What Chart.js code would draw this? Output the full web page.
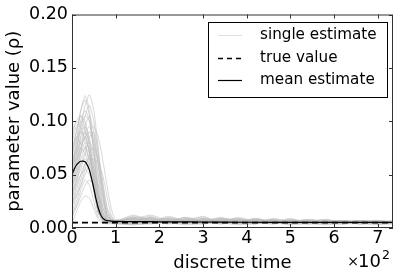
<!DOCTYPE html>
<html>
<head>
<meta charset="utf-8">
<script src="https://cdn.jsdelivr.net/npm/chart.js@4.4.0/dist/chart.umd.min.js"></script>
<style>
  body { margin: 0; background: #fff; }
</style>
</head>
<body>
<canvas id="chart" width="400" height="277"></canvas>
<script>
// time points for the single estimates
const singleTimes = [0, 10, 20, 30, 40, 50, 60, 70, 80, 90, 100,
  140, 180, 220, 260, 300, 340, 380, 420, 460, 500, 540, 580, 620, 660, 700, 735];

// each single estimate run (rho)
const single01 = [0.05,0.08,0.11,0.124,0.11,0.07,0.03,0.012,0.008,0.007,0.006, .009,.006,.010,.007,.005,.008,.006,.009,.005,.007,.006,.008,.005,.006,.007,.005];
const single02 = [0.04,0.07,0.095,0.115,0.125,0.11,0.075,0.035,0.012,0.008,0.007, .007,.011,.006,.008,.010,.005,.007,.006,.008,.006,.007,.005,.007,.006,.005,.006];
const single03 = [0.06,0.075,0.09,0.095,0.085,0.06,0.03,0.012,0.008,0.006,0.006, .005,.007,.004,.009,.006,.007,.005,.006,.004,.006,.005,.007,.004,.005,.006,.004];
const single04 = [0.03,0.05,0.07,0.08,0.075,0.05,0.02,0.009,0.007,0.006,0.005, .010,.005,.008,.006,.004,.007,.009,.005,.007,.005,.004,.006,.006,.004,.005,.006];
const single05 = [0.07,0.09,0.105,0.1,0.08,0.045,0.015,0.008,0.006,0.006,0.005, .004,.006,.008,.005,.007,.004,.006,.008,.006,.004,.006,.005,.007,.005,.004,.005];
const single06 = [0.02,0.035,0.05,0.06,0.055,0.035,0.015,0.007,0.006,0.005,0.005, .008,.012,.007,.005,.009,.006,.004,.007,.005,.008,.006,.004,.005,.007,.006,.005];
const single07 = [0.08,0.095,0.1,0.09,0.07,0.04,0.015,0.008,0.006,0.005,0.005, .006,.004,.006,.010,.005,.009,.007,.004,.009,.006,.008,.006,.004,.006,.005,.007];
const single08 = [0.05,0.065,0.085,0.105,0.115,0.1,0.07,0.04,0.018,0.009,0.007, .011,.008,.005,.007,.006,.005,.010,.006,.005,.007,.005,.007,.006,.005,.007,.005];
const single09 = [0.01,0.02,0.035,0.045,0.04,0.025,0.01,0.006,0.005,0.005,0.005, .003,.005,.007,.004,.006,.008,.004,.005,.006,.004,.005,.004,.006,.004,.005,.004];
const single10 = [0.09,0.1,0.095,0.08,0.06,0.035,0.015,0.008,0.006,0.005,0.005, .007,.009,.005,.006,.008,.006,.005,.007,.004,.006,.007,.005,.004,.006,.005,.006];
const single11 = [0.045,0.06,0.08,0.09,0.095,0.085,0.06,0.03,0.012,0.007,0.006, .009,.006,.009,.007,.005,.010,.006,.005,.008,.005,.006,.008,.005,.007,.006,.005];
const single12 = [0.035,0.055,0.075,0.085,0.07,0.04,0.015,0.007,0.006,0.005,0.005, .005,.008,.006,.004,.007,.005,.008,.006,.005,.009,.004,.006,.007,.005,.004,.006];
const single13 = [0.06,0.08,0.1,0.11,0.1,0.07,0.035,0.014,0.008,0.006,0.006, .012,.007,.006,.009,.006,.007,.005,.009,.006,.005,.007,.005,.006,.004,.006,.005];
const single14 = [0.015,0.03,0.045,0.06,0.065,0.055,0.035,0.015,0.008,0.006,0.005, .006,.005,.011,.006,.008,.004,.007,.005,.007,.006,.005,.007,.005,.006,.005,.007];
const single15 = [0.055,0.07,0.085,0.09,0.08,0.055,0.025,0.01,0.007,0.006,0.005, .004,.010,.005,.007,.005,.008,.006,.004,.006,.008,.005,.004,.006,.005,.006,.004];
const single16 = [0.025,0.045,0.065,0.075,0.08,0.07,0.05,0.025,0.012,0.007,0.006, .008,.006,.007,.005,.009,.006,.005,.008,.005,.006,.008,.006,.005,.007,.004,.006];
const single17 = [0.065,0.085,0.09,0.085,0.07,0.05,0.025,0.01,0.007,0.006,0.005, .006,.007,.004,.008,.006,.005,.009,.006,.007,.005,.006,.005,.007,.005,.006,.005];
const single18 = [0.04,0.05,0.06,0.065,0.06,0.045,0.025,0.01,0.006,0.005,0.005, .005,.004,.006,.005,.004,.006,.004,.005,.004,.005,.004,.006,.004,.005,.004,.005];
const single19 = [0.075,0.09,0.11,0.12,0.105,0.075,0.04,0.015,0.008,0.006,0.006, .010,.007,.008,.006,.007,.009,.005,.007,.006,.007,.005,.006,.005,.006,.007,.006];
const single20 = [0.005,0.015,0.025,0.03,0.028,0.018,0.008,0.005,0.004,0.004,0.004, .003,.004,.005,.003,.004,.005,.003,.004,.005,.003,.004,.003,.004,.004,.003,.004];
const single21 = [0.085,0.1,0.105,0.095,0.075,0.045,0.02,0.009,0.006,0.005,0.005, .007,.005,.009,.006,.011,.005,.006,.005,.007,.006,.005,.007,.006,.005,.006,.005];
const single22 = [0.03,0.045,0.055,0.07,0.085,0.09,0.07,0.045,0.02,0.01,0.007, .009,.008,.006,.007,.005,.007,.008,.006,.005,.007,.006,.005,.006,.007,.005,.006];
const single23 = [0.05,0.065,0.075,0.07,0.055,0.035,0.015,0.007,0.006,0.005,0.005, .005,.006,.007,.005,.006,.004,.006,.007,.005,.004,.006,.005,.004,.005,.006,.004];
const single24 = [0.02,0.04,0.06,0.07,0.065,0.045,0.02,0.008,0.006,0.005,0.005, .006,.009,.005,.008,.006,.006,.007,.005,.006,.005,.007,.006,.005,.004,.005,.006];
const single25 = [0.045,0.06,0.075,0.085,0.09,0.095,0.085,0.065,0.04,0.018,0.008, .007,.010,.006,.005,.008,.006,.007,.005,.006,.007,.005,.006,.005,.007,.005,.006];
const single26 = [0.065,0.07,0.08,0.085,0.09,0.08,0.06,0.035,0.015,0.008,0.006, .005,.007,.009,.006,.005,.007,.005,.008,.006,.005,.006,.007,.006,.005,.006,.005];
const single27 = [0.01,0.025,0.04,0.055,0.07,0.075,0.065,0.04,0.015,0.007,0.005, .008,.005,.006,.010,.007,.005,.006,.005,.007,.005,.006,.004,.006,.005,.004,.005];
const single28 = [0.055,0.075,0.095,0.105,0.1,0.08,0.05,0.02,0.009,0.006,0.005, .006,.008,.005,.006,.007,.009,.006,.004,.006,.007,.005,.006,.005,.006,.005,.006];
const single29 = [0.035,0.04,0.05,0.055,0.05,0.04,0.03,0.02,0.01,0.006,0.005, .004,.006,.005,.007,.005,.006,.008,.005,.004,.006,.005,.005,.006,.004,.006,.005];
const single30 = [0.025,0.03,0.04,0.05,0.06,0.065,0.06,0.05,0.03,0.012,0.006, .009,.006,.007,.005,.006,.005,.007,.006,.008,.005,.006,.005,.004,.006,.005,.004];
const single31 = [0.07,0.085,0.08,0.075,0.065,0.05,0.03,0.012,0.007,0.005,0.005, .005,.009,.006,.007,.004,.006,.005,.007,.005,.006,.004,.005,.006,.005,.004,.005];
const single32 = [0.04,0.055,0.07,0.095,0.105,0.09,0.06,0.03,0.011,0.007,0.006, .008,.005,.007,.006,.009,.005,.006,.007,.005,.006,.005,.006,.005,.006,.005,.005];
const single33 = [0.015,0.02,0.03,0.04,0.045,0.04,0.03,0.015,0.007,0.005,0.004, .004,.006,.004,.005,.006,.004,.005,.004,.006,.004,.005,.004,.005,.004,.005,.004];
const single34 = [0.06,0.065,0.07,0.075,0.07,0.06,0.04,0.02,0.009,0.006,0.005, .010,.006,.005,.008,.006,.007,.005,.006,.007,.005,.006,.005,.006,.005,.006,.005];

const singleRuns = [single01, single02, single03, single04, single05, single06, single07, single08,
  single09, single10, single11, single12, single13, single14, single15, single16,
  single17, single18, single19, single20, single21, single22, single23, single24,
  single25, single26, single27, single28, single29, single30, single31, single32,
  single33, single34];

// mean of all runs
const meanTimes = [0, 5, 10, 15, 20, 25, 30, 35, 40, 45, 50, 55, 60, 65, 70, 75, 80, 90, 100, 150, 200, 300, 400, 500, 600, 735];
const meanEstimate = [0.050, 0.055, 0.059, 0.061, 0.0625, 0.0626, 0.062, 0.059, 0.054, 0.046, 0.037, 0.027, 0.019,
  0.013, 0.0095, 0.0078, 0.007, 0.0065, 0.0062, 0.006, 0.0058, 0.0056, 0.0054, 0.0053, 0.0052, 0.0052];

const trueValue = 0.005;
const timeRange = [0, 735];

const xTickValues = [0, 100, 200, 300, 400, 500, 600, 700];
const xTickLabels = ['0', '1', '2', '3', '4', '5', '6', '7'];
const yTickValues = [0, 0.05, 0.10, 0.15, 0.20];
const yTickLabels = ['0.00', '0.05', '0.10', '0.15', '0.20'];

const legendLabels = ['single estimate', 'true value', 'mean estimate'];

const FONT = "'DejaVu Sans', sans-serif";
const GRAY = 'rgba(190,190,190,0.6)';

const datasets = [];
singleRuns.forEach((run) => {
  datasets.push({
    data: run.map((v, i) => ({ x: singleTimes[i], y: v })),
    borderColor: GRAY,
    borderWidth: 1,
    pointRadius: 0,
    tension: 0.2,
    order: 3
  });
});
datasets.push({
  data: timeRange.map(t => ({ x: t, y: trueValue })),
  borderColor: '#000',
  borderWidth: 1.6,
  borderDash: [6, 4],
  pointRadius: 0,
  order: 2
});
datasets.push({
  data: meanEstimate.map((v, i) => ({ x: meanTimes[i], y: v })),
  borderColor: '#000',
  borderWidth: 1.2,
  pointRadius: 0,
  cubicInterpolationMode: 'monotone',
  order: 1
});

// box, inward ticks, legend and the x10^2 offset text
const extras = {
  id: 'extras',
  afterDraw(chart) {
    const ctx = chart.ctx;
    const a = chart.chartArea;
    const xs = chart.scales.x, ys = chart.scales.y;
    ctx.save();
    ctx.strokeStyle = '#333';
    ctx.lineWidth = 1;
    ctx.strokeRect(a.left + 0.5, a.top + 0.5, a.right - a.left - 1, a.bottom - a.top - 1);
    ctx.beginPath();
    xTickValues.forEach(v => {
      const px = Math.round(xs.getPixelForValue(v)) + 0.5;
      ctx.moveTo(px, a.bottom); ctx.lineTo(px, a.bottom - 4);
      ctx.moveTo(px, a.top); ctx.lineTo(px, a.top + 4);
    });
    yTickValues.forEach(v => {
      const py = Math.round(ys.getPixelForValue(v)) + 0.5;
      ctx.moveTo(a.left, py); ctx.lineTo(a.left + 4, py);
      ctx.moveTo(a.right, py); ctx.lineTo(a.right - 4, py);
    });
    ctx.stroke();

    // legend
    const bx = 208, by = 22, bw = 179, bh = 75;
    ctx.fillStyle = '#fff';
    ctx.fillRect(bx, by, bw, bh);
    ctx.strokeStyle = '#000';
    ctx.strokeRect(bx + 0.5, by + 0.5, bw, bh);
    const rows = [35, 58, 80];
    ctx.font = '15.2px ' + FONT;
    ctx.textBaseline = 'middle';
    ctx.textAlign = 'left';
    rows.forEach((ry, i) => {
      ctx.beginPath();
      if (i === 0) { ctx.strokeStyle = 'rgba(200,200,200,0.6)'; ctx.lineWidth = 1; ctx.setLineDash([]); }
      if (i === 1) { ctx.strokeStyle = '#000'; ctx.lineWidth = 1.6; ctx.setLineDash([5, 4]); }
      if (i === 2) { ctx.strokeStyle = '#000'; ctx.lineWidth = 1.2; ctx.setLineDash([]); }
      ctx.moveTo(218, ry + 0.5); ctx.lineTo(242, ry + 0.5);
      ctx.stroke();
      ctx.setLineDash([]);
      ctx.fillStyle = '#000';
      ctx.fillText(legendLabels[i], 260, ry);
    });

    // offset text
    ctx.textBaseline = 'alphabetic';
    ctx.textAlign = 'right';
    ctx.font = '18px ' + FONT;
    ctx.fillText('10', 381, 267);
    ctx.font = '14px ' + FONT;
    ctx.fillText('\u00d7', 359, 266);
    ctx.textAlign = 'left';
    ctx.font = '12.5px ' + FONT;
    ctx.fillText('2', 382, 259);
    ctx.restore();
  }
};

new Chart('chart', {
  type: 'line',
  data: { datasets: datasets },
  options: {
    responsive: false,
    animation: false,
    layout: { padding: { top: 14, right: 7, left: 0, bottom: 0 } },
    plugins: { legend: { display: false }, tooltip: { enabled: false } },
    scales: {
      x: {
        type: 'linear',
        min: timeRange[0],
        max: timeRange[1],
        afterBuildTicks: (s) => { s.ticks = xTickValues.map(v => ({ value: v })); },
        afterFit: (s) => { s.height = 49; },
        grid: { display: false, drawTicks: false },
        border: { display: false },
        ticks: {
          color: '#000',
          font: { family: FONT, size: 17.5 },
          padding: 0,
          maxRotation: 0,
          callback: (v) => xTickLabels[xTickValues.indexOf(v)]
        },
        title: {
          display: true,
          text: 'discrete time',
          color: '#000',
          font: { family: FONT, size: 18 },
          padding: { top: 0, bottom: 3 }
        }
      },
      y: {
        min: 0,
        max: 0.2,
        afterBuildTicks: (s) => { s.ticks = yTickValues.map(v => ({ value: v })); },
        afterFit: (s) => { s.width = 72; },
        grid: { display: false, drawTicks: false },
        border: { display: false },
        ticks: {
          color: '#000',
          font: { family: FONT, size: 17.5 },
          padding: 4,
          callback: (v) => yTickLabels[yTickValues.indexOf(v)]
        },
        title: {
          display: true,
          text: 'parameter value (\u03c1)',
          color: '#000',
          font: { family: FONT, size: 18 },
          padding: { top: 4, bottom: 0 }
        }
      }
    }
  },
  plugins: [extras]
});
</script>
</body>
</html>
